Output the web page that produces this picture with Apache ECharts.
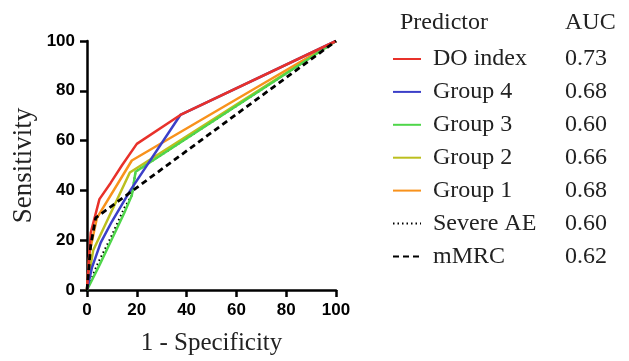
<!DOCTYPE html>
<html>
<head>
<meta charset="utf-8">
<script src="https://cdn.jsdelivr.net/npm/echarts@6/dist/echarts.min.js"></script>
<style>
    html, body { margin: 0; padding: 0; background: #fff; }
    #chart { width: 629px; height: 361px; }
</style>
</head>
<body>
<div id="chart"></div>
<script>
// ROC curves, [1 - specificity, sensitivity] in %
var doIndex = [[0, 0], [1.5, 23], [5, 36.5], [9.5, 43], [14, 50], [20, 58.7], [37.5, 70.3], [100, 100]];
var group4 = [[0, 0], [2, 9], [5.5, 19], [10, 27.5], [17.4, 40], [37.5, 70.3], [100, 100]];
var group3 = [[0, 0], [5, 10], [10, 20.5], [15, 31], [18, 38], [19.5, 47.5], [100, 100]];
var group2 = [[0, 0], [1.5, 10], [2.5, 16], [17.2, 47.2], [100, 100]];
var group1 = [[0, 0], [1, 15], [4, 29], [18, 52], [100, 100]];
var severeAE = [[0, 0], [4, 10], [9.5, 21], [15, 33], [18, 38], [19.5, 47.5], [100, 100]];
var mMRC = [[0, 0], [1.5, 18], [3.5, 29], [100, 100]];

var names = ['DO index', 'Group 4', 'Group 3', 'Group 2', 'Group 1', 'Severe AE', 'mMRC'];
var aucs = ['0.73', '0.68', '0.60', '0.66', '0.68', '0.60', '0.62'];
var xTicks = [0, 20, 40, 60, 80, 100];

var aucByName = {};
names.forEach(function (n, i) { aucByName[n] = aucs[i]; });

function lineSeries(name, data, color, width, type) {
    return {
        name: name,
        type: 'line',
        data: data,
        symbol: 'none',
        silent: true,
        color: color,
        lineStyle: { color: color, width: width, type: type || 'solid' }
    };
}

var chart = echarts.init(document.getElementById('chart'));
var serif = '"Liberation Serif", "DejaVu Serif", serif';
var sans = '"Liberation Sans", Arial, sans-serif';

chart.setOption({
    animation: false,
    backgroundColor: '#fff',
    grid: { left: 87, right: 293, top: 41, bottom: 71 },
    xAxis: {
        type: 'value',
        min: xTicks[0],
        max: xTicks[xTicks.length - 1],
        interval: 20,
        name: '1 - Specificity',
        nameLocation: 'middle',
        nameGap: 41,
        nameTextStyle: { fontFamily: serif, fontSize: 25, color: '#222' },
        axisLine: { lineStyle: { color: '#000', width: 2.5 } },
        axisTick: { show: true, length: 7, lineStyle: { color: '#000', width: 2.5 } },
        axisLabel: { margin: 12, fontFamily: sans, fontWeight: 'bold', fontSize: 17, color: '#000' },
        splitLine: { show: false }
    },
    yAxis: {
        type: 'value',
        min: 0,
        max: 100,
        interval: 20,
        name: 'Sensitivity',
        nameLocation: 'middle',
        nameGap: 50,
        nameTextStyle: { fontFamily: serif, fontSize: 27, color: '#222' },
        axisLine: { lineStyle: { color: '#000', width: 2.5 } },
        axisTick: { show: true, length: 7, lineStyle: { color: '#000', width: 2.5 } },
        axisLabel: { margin: 12, fontFamily: sans, fontWeight: 'bold', fontSize: 17, color: '#000' },
        splitLine: { show: false }
    },
    legend: {
        data: names,
        orient: 'vertical',
        left: 392,
        top: 47,
        itemWidth: 28,
        itemHeight: 24,
        itemGap: 8.9,
        padding: 0,
        selectedMode: false,
        itemStyle: { opacity: 0 },
        formatter: function (name) {
            return '{n|' + name + '}{v|' + aucByName[name] + '}';
        },
        textStyle: {
            rich: {
                n: { fontFamily: serif, fontSize: 24, color: '#222', width: 132, padding: [0, 0, 0, 7] },
                v: { fontFamily: serif, fontSize: 24, color: '#222' }
            }
        }
    },
    graphic: [
        { type: 'text', left: 400, top: 11, style: { text: 'Predictor', font: '24px ' + serif, fill: '#222' } },
        { type: 'text', left: 565, top: 11, style: { text: 'AUC', font: '24px ' + serif, fill: '#222' } }
    ],
    series: [
        lineSeries('Severe AE', severeAE, '#000', 2, [1.5, 3]),
        lineSeries('Group 2', group2, '#bcbf1e', 2.5),
        lineSeries('Group 1', group1, '#f8921c', 2.5),
        lineSeries('Group 3', group3, '#4fd64a', 2.5),
        lineSeries('Group 4', group4, '#3b3fc8', 2.5),
        lineSeries('DO index', doIndex, '#e8312a', 2.5),
        lineSeries('mMRC', mMRC, '#000', 2.8, [6, 4])
    ]
});
</script>
</body>
</html>
